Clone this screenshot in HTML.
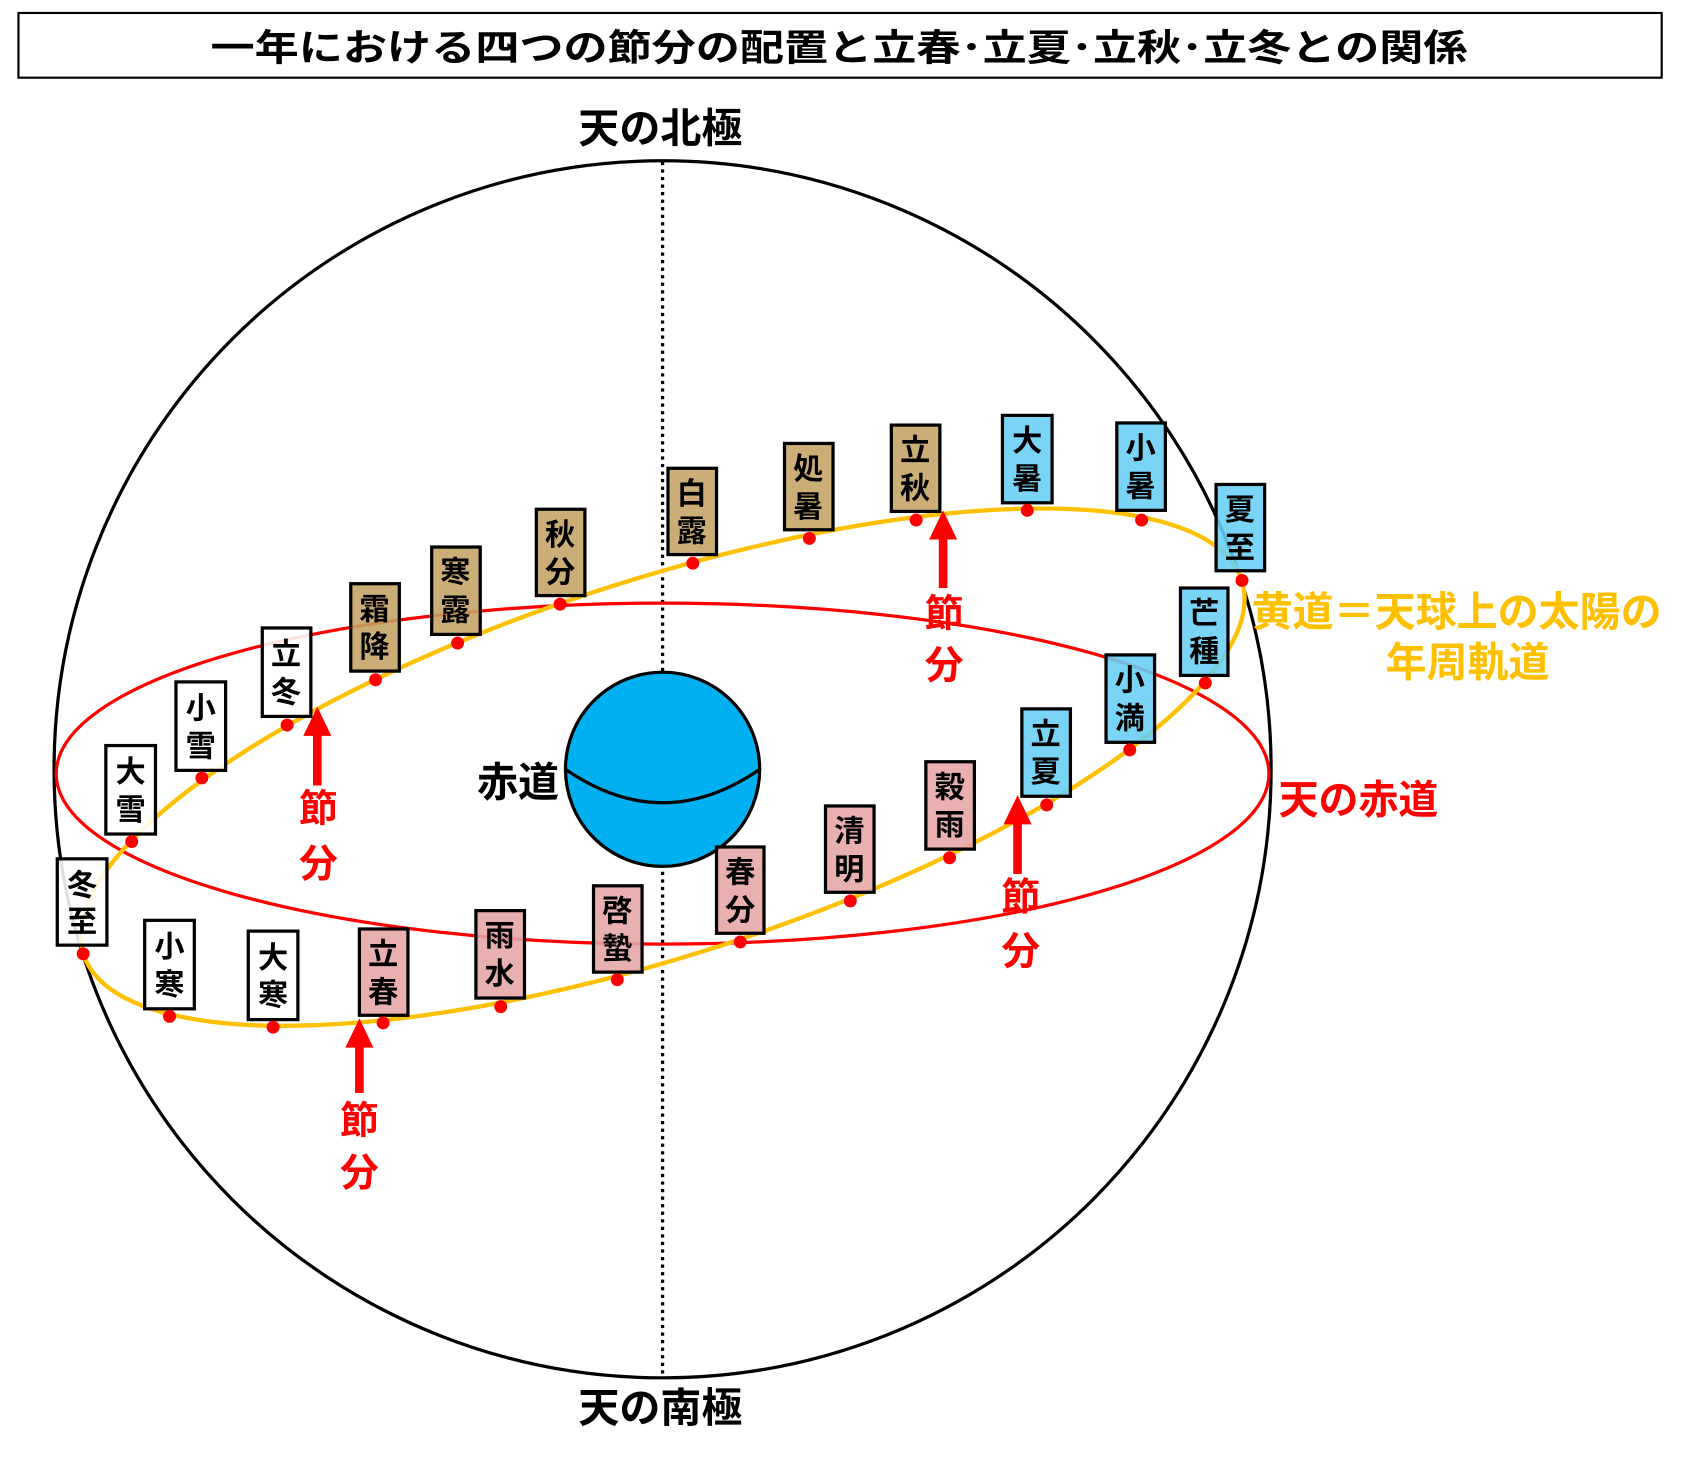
<!DOCTYPE html>
<html><head><meta charset="utf-8"><style>
html,body{margin:0;padding:0;background:#fff;}
svg{display:block;}
text{font-family:"Liberation Sans","Noto Sans CJK JP",sans-serif;font-weight:700;}
</style></head><body>
<svg width="1692" height="1476" viewBox="0 0 1568 1368" xmlns="http://www.w3.org/2000/svg">
<rect x="17" y="12" width="1523" height="60" fill="#fff" stroke="#000" stroke-width="2"/>
<text x="195" y="56" font-size="34" textLength="1165" lengthAdjust="spacingAndGlyphs">一年における四つの節分の配置と立春･立夏･立秋･立冬との関係</text>
<text x="612" y="132" font-size="38" text-anchor="middle">天の北極</text>
<text x="612" y="1318" font-size="38" text-anchor="middle">天の南極</text>
<circle cx="614" cy="713" r="564" fill="none" stroke="#000" stroke-width="3"/>
<line x1="614" y1="150" x2="614" y2="1276" stroke="#000" stroke-width="3" stroke-dasharray="3,4"/>
<ellipse cx="614" cy="717" rx="562" ry="158" fill="none" stroke="#ff0000" stroke-width="3"/>
<circle cx="614" cy="713" r="90" fill="#00b0f0" stroke="#000" stroke-width="3"/>
<path d="M524,713 Q614,775 704,713" fill="none" stroke="#000" stroke-width="3"/>
<text x="518" y="738" font-size="38" text-anchor="end">赤道</text>
<text x="1185" y="754" font-size="37" fill="#ff0000">天の赤道</text>
<text x="1160" y="580" font-size="38" fill="#ffc000">黄道＝天球上の太陽の</text>
<text x="1360" y="627" font-size="38" fill="#ffc000" text-anchor="middle">年周軌道</text>
<ellipse cx="614" cy="711" rx="564" ry="174" transform="rotate(-17.9 614 711)" fill="none" stroke="#ffc000" stroke-width="4"/>
<g stroke="#000" stroke-width="3" fill-opacity="0.88">
<rect x="53" y="796" width="46" height="80" fill="#fff"/>
<rect x="134" y="853" width="46" height="82" fill="#fff"/>
<rect x="230" y="863" width="46" height="82" fill="#fff"/>
<rect x="98" y="691" width="46" height="82" fill="#fff"/>
<rect x="163" y="632" width="46" height="82" fill="#fff"/>
<rect x="243" y="582" width="45" height="82" fill="#fff"/>
<rect x="333" y="861" width="45" height="80" fill="#e6a5a5"/>
<rect x="441" y="844" width="45" height="81" fill="#e6a5a5"/>
<rect x="550" y="821" width="45" height="80" fill="#e6a5a5"/>
<rect x="664" y="785" width="44" height="80" fill="#e6a5a5"/>
<rect x="765" y="747" width="45" height="80" fill="#e6a5a5"/>
<rect x="858" y="706" width="45" height="81" fill="#e6a5a5"/>
<rect x="947" y="657" width="45" height="81" fill="#66cef5"/>
<rect x="1025" y="607" width="45" height="81" fill="#66cef5"/>
<rect x="1094" y="545" width="44" height="81" fill="#66cef5"/>
<rect x="1127" y="449" width="45" height="80" fill="#66cef5"/>
<rect x="1035" y="392" width="45" height="81" fill="#66cef5"/>
<rect x="929" y="385" width="46" height="81" fill="#66cef5"/>
<rect x="826" y="394" width="45" height="80" fill="#c4a265"/>
<rect x="727" y="411" width="45" height="80" fill="#c4a265"/>
<rect x="619" y="434" width="45" height="80" fill="#c4a265"/>
<rect x="497" y="472" width="45" height="80" fill="#c4a265"/>
<rect x="400" y="507" width="45" height="81" fill="#c4a265"/>
<rect x="325" y="541" width="45" height="81" fill="#c4a265"/>
</g>
<g font-size="28" text-anchor="middle" font-weight="400">
<text x="76" y="830">冬</text><text x="76" y="864">至</text>
<text x="157" y="887">小</text><text x="157" y="922">寒</text>
<text x="253" y="897">大</text><text x="253" y="932">寒</text>
<text x="121" y="725">大</text><text x="121" y="760">雪</text>
<text x="186" y="666">小</text><text x="186" y="701">雪</text>
<text x="265" y="616">立</text><text x="265" y="651">冬</text>
<text x="355" y="894">立</text><text x="355" y="929">春</text>
<text x="463" y="877">雨</text><text x="463" y="912">水</text>
<text x="572" y="854">啓</text><text x="572" y="889">蟄</text>
<text x="686" y="818">春</text><text x="686" y="853">分</text>
<text x="787" y="780">清</text><text x="787" y="815">明</text>
<text x="880" y="739">穀</text><text x="880" y="774">雨</text>
<text x="969" y="690">立</text><text x="969" y="725">夏</text>
<text x="1047" y="640">小</text><text x="1047" y="675">満</text>
<text x="1116" y="578">芒</text><text x="1116" y="613">種</text>
<text x="1149" y="482">夏</text><text x="1149" y="517">至</text>
<text x="1057" y="425">小</text><text x="1057" y="460">暑</text>
<text x="952" y="418">大</text><text x="952" y="453">暑</text>
<text x="848" y="427">立</text><text x="848" y="462">秋</text>
<text x="749" y="444">処</text><text x="749" y="479">暑</text>
<text x="641" y="467">白</text><text x="641" y="502">露</text>
<text x="519" y="505">秋</text><text x="519" y="540">分</text>
<text x="422" y="540">寒</text><text x="422" y="575">露</text>
<text x="347" y="574">霜</text><text x="347" y="609">降</text>
</g>
<g fill="#ff0000">
<circle cx="77" cy="884" r="6"/><circle cx="157" cy="942" r="6"/><circle cx="253" cy="952" r="6"/>
<circle cx="355" cy="948" r="6"/><circle cx="464" cy="933" r="6"/><circle cx="572" cy="908" r="6"/>
<circle cx="686" cy="873" r="6"/><circle cx="788" cy="835" r="6"/><circle cx="880" cy="795" r="6"/>
<circle cx="970" cy="746" r="6"/><circle cx="1047" cy="695" r="6"/><circle cx="1117" cy="633" r="6"/>
<circle cx="1151" cy="538" r="6"/><circle cx="1058" cy="482" r="6"/><circle cx="952" cy="473" r="6"/>
<circle cx="849" cy="482" r="6"/><circle cx="750" cy="499" r="6"/><circle cx="642" cy="522" r="6"/>
<circle cx="519" cy="560" r="6"/><circle cx="424" cy="596" r="6"/><circle cx="348" cy="630" r="6"/>
<circle cx="266" cy="672" r="6"/><circle cx="187" cy="721" r="6"/><circle cx="122" cy="780" r="6"/>
<rect x="290" y="678" width="8" height="50"/><polygon points="294,655 281,682 307,682"/>
<rect x="329" y="968" width="8" height="45"/><polygon points="333,944 320,971 346,971"/>
<rect x="939" y="761" width="8" height="49"/><polygon points="943,737 930,764 956,764"/>
<rect x="870" y="497" width="8" height="48"/><polygon points="874,473 861,500 887,500"/>
</g>
<g font-size="36" fill="#ff0000" text-anchor="middle">
<text x="295" y="762">節</text><text x="295" y="813">分</text>
<text x="333" y="1051">節</text><text x="333" y="1099">分</text>
<text x="946" y="844">節</text><text x="946" y="894">分</text>
<text x="875" y="581">節</text><text x="875" y="629">分</text>
</g>
</svg>
</body></html>
